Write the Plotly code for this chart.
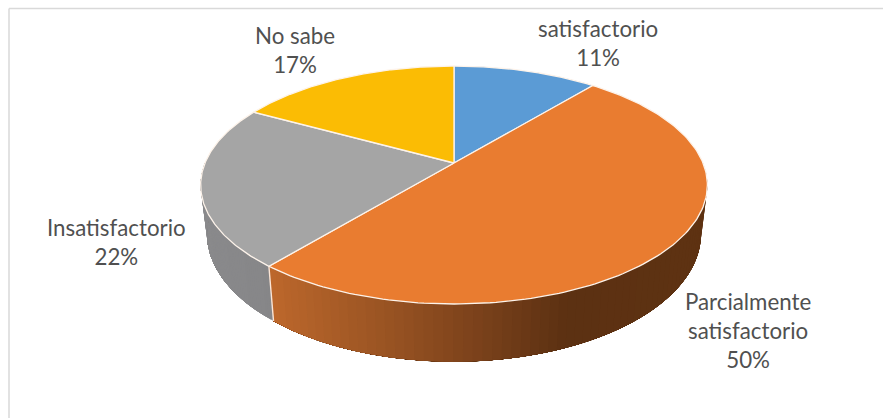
import numpy as np
import plotly.graph_objects as go

categories = ["satisfactorio", "Parcialmente<br>satisfactorio", "Insatisfactorio", "No sabe"]
percent = [11, 50, 22, 17]
top_colors = ["#5B9BD5", "#E97C30", "#A5A5A5", "#FBBC04"]
label_centers = [(598, 43), (748, 330), (116, 242), (295, 50)]

# Screen placement of the tilted disc, in pixels of the 883x418 canvas
APEX_X, APEX_Y = 454, 163
SPAN_X, SPAN_Y = 249, 114.9
TILT = 0.185
DEPTH = 47
BASE_SHRINK = 0.975


def project(frac, lower=False):
    """Map a clockwise fraction of the circle to canvas pixels, on the top or base plane."""
    a = 2 * np.pi * np.asarray(frac, dtype=float)
    u, v = np.sin(a), -np.cos(a)
    w = 1 - TILT * v
    x = SPAN_X * u / w
    y = SPAN_Y * v / w
    if lower:
        return APEX_X + x * BASE_SHRINK, APEX_Y + y + DEPTH / w
    return APEX_X + x, APEX_Y + y


def lerp_stops(x, stops):
    xs = [s[0] for s in stops]
    return tuple(int(round(np.interp(x, xs, [s[1][i] for s in stops]))) for i in range(3))


# Wall shading runs left to right across the canvas
orange_wall = [(268, (190, 104, 44)), (400, (150, 82, 34)), (480, (124, 66, 27)),
               (570, (92, 49, 18)), (710, (94, 50, 18))]
gray_wall = [(200, (138, 138, 140)), (272, (134, 134, 136))]
wall_stops = {1: orange_wall, 2: gray_wall}

fig = go.Figure()


def polygon(xs, ys, fill, line_color=None, line_width=0):
    fig.add_trace(go.Scatter(
        x=list(xs), y=list(ys), mode="lines", fill="toself", fillcolor=fill,
        line=dict(color=line_color or fill, width=line_width),
        hoverinfo="skip", showlegend=False,
    ))


bounds = np.cumsum([0] + percent) / sum(percent)

# Outer walls: each band is painted up to the slice end, so the next one covers it without seams
for idx, (start, end) in enumerate(zip(bounds[:-1], bounds[1:])):
    if idx not in wall_stops:
        continue
    lo, hi = max(start, 0.25), min(end, 0.75)
    steps = np.linspace(lo, hi, 70)
    for f0 in steps[:-1]:
        arc = np.linspace(f0, hi, 60)
        tx, ty = project(arc)
        bx, by = project(arc[::-1], lower=True)
        mid_x = project(f0)[0]
        r, g, b = lerp_stops(mid_x, wall_stops[idx])
        polygon(np.r_[tx, bx, tx[0]], np.r_[ty, by, ty[0]], f"rgb({r},{g},{b})")

# Pale seam down the wall where orange meets gray
seam = bounds[2]
sx0, sy0 = project(seam)
sx1, sy1 = project(seam, lower=True)
fig.add_trace(go.Scatter(x=[sx0, sx1], y=[sy0, sy1], mode="lines",
                         line=dict(color="#FBE5D6", width=1.4),
                         hoverinfo="skip", showlegend=False))

# Top face of every slice
for idx, (start, end) in enumerate(zip(bounds[:-1], bounds[1:])):
    arc = np.linspace(start, end, 160)
    ax, ay = project(arc)
    xs = np.r_[APEX_X, ax, APEX_X]
    ys = np.r_[APEX_Y, ay, APEX_Y]
    polygon(xs, ys, top_colors[idx], "#FDF3EA", 1.3)

layout_annotations = [
    dict(x=cx, y=cy, xref="x", yref="y", showarrow=False, align="center",
         text=f"{name}<br>{pct}%",
         font=dict(family="Lato", size=22.3, color="#505050"))
    for name, pct, (cx, cy) in zip(categories, percent, label_centers)
]

# Only the top and left edges of the chart frame are in view
frame = dict(type="line", xref="x", yref="y", layer="below",
             line=dict(color="#D9D9D9", width=1.5))

fig.update_layout(
    width=883, height=418,
    margin=dict(l=0, r=0, t=0, b=0),
    paper_bgcolor="white", plot_bgcolor="white",
    showlegend=False,
    xaxis=dict(range=[0, 883], visible=False, fixedrange=True),
    yaxis=dict(range=[418, 0], visible=False, fixedrange=True),
    annotations=layout_annotations,
    shapes=[dict(frame, x0=9, y0=8.5, x1=883, y1=8.5),
            dict(frame, x0=9, y0=8.5, x1=9, y1=418)],
)

fig.write_html("out.html", config={"displayModeBar": False})
